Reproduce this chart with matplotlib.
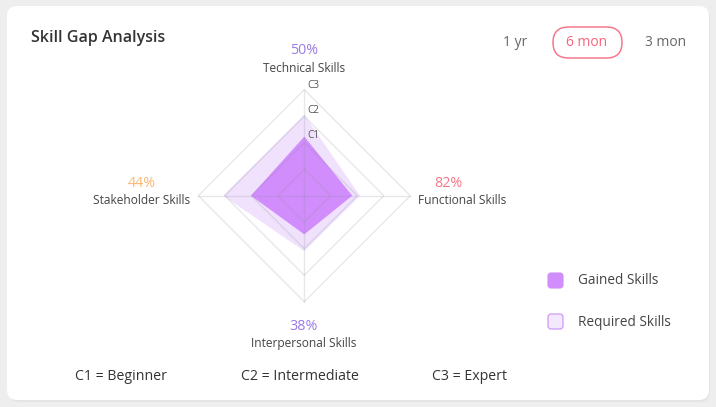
import numpy as np
import matplotlib
matplotlib.use("Agg")
import matplotlib.pyplot as plt
from matplotlib.patches import FancyBboxPatch

plt.rcParams['font.family'] = ['Open Sans', 'DejaVu Sans']

# ---- data ----
categories = ['Technical Skills', 'Functional Skills', 'Interpersonal Skills', 'Stakeholder Skills']
percents = ['50%', '82%', '38%', '44%']
gained = [2.23, 1.81, 1.46, 2.01]
required = [3.05, 2.10, 2.09, 3.06]
levels = [1, 2, 3, 4]
level_labels = ['C1', 'C2', 'C3']
periods = ['1 yr', '6 mon', '3 mon']
legend_labels = ['Gained Skills', 'Required Skills']
level_names = ['C1 = Beginner', 'C2 = Intermediate', 'C3 = Expert']

W, H = 716, 407
fig = plt.figure(figsize=(W / 100, H / 100), dpi=100)
fig.patch.set_facecolor('#eeeeee')

def P(x, y):
    return (x / W, 1 - y / H)

# card
bg = fig.add_axes([0, 0, 1, 1])
bg.set_xlim(0, W); bg.set_ylim(H, 0); bg.axis('off')
bg.add_patch(FancyBboxPatch((9, 8), 701, 394, boxstyle="round,pad=0,rounding_size=10",
                            fc='#e4e4e4', ec='none', zorder=0))
bg.add_patch(FancyBboxPatch((7, 6), 702, 394, boxstyle="round,pad=0,rounding_size=10",
                            fc='white', ec='none', zorder=1))

# radar axes
cx, cy, R = 304.3, 195.7, 132.5
ax = fig.add_axes([(cx - R) / W, (H - cy - R) / H, 2 * R / W, 2 * R / H])
ax.set_xlim(-5, 5); ax.set_ylim(-5, 5); ax.axis('off')
ax.set_aspect('equal')

angles = np.deg2rad([90, 0, -90, 180])
def xy(vals):
    v = np.asarray(vals, float)
    x = v * np.cos(angles); y = v * np.sin(angles)
    return np.append(x, x[0]), np.append(y, y[0])

rx, ry = xy(required)
ax.fill(rx, ry, color='#f0e1fd', lw=0, zorder=1)
gx, gy = xy(gained)
ax.fill(gx, gy, color='#d18dfc', lw=0, zorder=2)

grid_c = (0.55, 0.55, 0.6, 0.2)
for lv in levels:
    x, y = xy([lv] * 4)
    ax.plot(x, y, color=grid_c, lw=1, zorder=3)
for a in angles:
    ax.plot([0, levels[-1] * np.cos(a)], [0, levels[-1] * np.sin(a)], color=grid_c, lw=1, zorder=3)

for lab, lv in zip(level_labels, [2.29, 3.23, 4.15]):
    ax.text(0.1, lv, lab, fontsize=7.2, color='#555555', ha='left', va='center', zorder=4)

# category labels
cat_pos = [(304, 68), (462, 201), (304, 343), (142, 201)]
pct_pos = [(304, 50), (448, 184), (304, 326), (142, 184)]
pct_col = ['#9a7be8', '#f7788a', '#9a7be8', '#fdb872']
for c, p, cp, pp, col in zip(categories, percents, cat_pos, pct_pos, pct_col):
    fig.text(*P(*cp), c, fontsize=8.6, color='#444444', ha='center', va='center')
    fig.text(*P(*pp), p, fontsize=10.3, color=col, ha='center', va='center', fontweight='medium')

# title
fig.text(*P(31, 38), 'Skill Gap Analysis', fontsize=11.5, color='#333333', ha='left', va='center',
         fontweight='semibold')

# period buttons
bx = [515, 587, 666]
for t, x in zip(periods, bx):
    col = '#f7667a' if t == '6 mon' else '#666666'
    fig.text(*P(x, 43), t, fontsize=10, color=col, ha='center', va='center')
bg.add_patch(FancyBboxPatch((553, 27), 69, 31, boxstyle="round,pad=0,rounding_size=15.5",
                            fc='none', ec='#f7788a', lw=1.1, zorder=2))

# legend
bg.add_patch(FancyBboxPatch((548, 273), 15, 15, boxstyle="round,pad=0,rounding_size=3",
                            fc='#d18dfc', ec='#d18dfc', lw=0.8, zorder=2))
bg.add_patch(FancyBboxPatch((548, 314), 15, 15, boxstyle="round,pad=0,rounding_size=3",
                            fc='#f4e8fe', ec='#c98ef7', lw=0.8, zorder=2))
for t, y in zip(legend_labels, [281, 322]):
    fig.text(*P(578, y), t, fontsize=9.8, color='#444444', ha='left', va='center')

# bottom level names
for t, x in zip(level_names, [75, 241, 432]):
    fig.text(*P(x, 377), t, fontsize=10.2, color='#333333', ha='left', va='center')

fig.savefig('out.png', dpi=100, facecolor=fig.get_facecolor())
